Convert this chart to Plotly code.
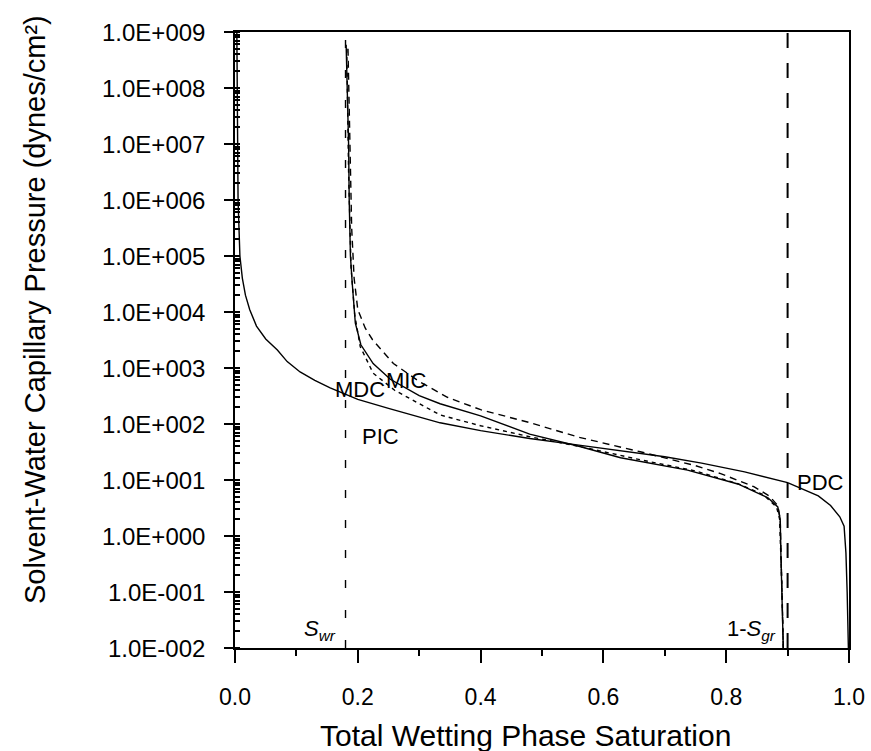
import math
import plotly.graph_objects as go

# ---- data ----
PDC_X = [0.003, 0.004, 0.005, 0.008, 0.012, 0.017, 0.024, 0.035, 0.05, 0.069, 0.085, 0.106,
         0.13, 0.155, 0.2, 0.25, 0.3, 0.334, 0.4, 0.48, 0.56, 0.628, 0.7, 0.76, 0.83, 0.9,
         0.95, 0.97, 0.985, 0.992, 0.995, 0.997, 0.999]
PDC_P = [1.0e9, 3.2e7, 1.0e6, 1.0e5, 4.0e4, 2.0e4, 1.1e4, 5.6e3, 3.3e3, 2.1e3, 1.3e3, 850,
         600, 440, 275, 190, 135, 105, 76, 55, 42, 33, 26, 20, 14, 9.0,
         5.2, 3.5, 2.2, 1.5, 0.5, 0.1, 0.01]

MDC_X = [0.181, 0.183, 0.185, 0.186, 0.188, 0.191, 0.196, 0.205, 0.225, 0.253, 0.3, 0.334,
         0.4, 0.48, 0.56, 0.628, 0.737, 0.819, 0.868, 0.884, 0.888, 0.889, 0.891, 0.893]
MDC_P = [5.9e8, 1.0e8, 1.0e7, 1.0e6, 1.0e5, 3.2e4, 6.3e3, 2.6e3, 1.2e3, 630, 320, 230,
         140, 66, 40, 25, 15, 8.5, 4.8, 3.3, 2.0, 0.5, 0.1, 0.01]

MIC_X = [0.184, 0.187, 0.19, 0.194, 0.2, 0.212, 0.224, 0.258, 0.3, 0.346, 0.4, 0.481,
         0.56, 0.66, 0.75, 0.791, 0.845, 0.87, 0.884, 0.888, 0.889, 0.891, 0.893]
MIC_P = [5.0e8, 1.0e7, 3.2e5, 4.0e4, 1.1e4, 5.2e3, 3.2e3, 1.2e3, 575, 300, 180, 105,
         58, 32, 18, 13, 7.6, 5.2, 3.5, 2.0, 0.5, 0.1, 0.01]

PIC_X = [0.182, 0.185, 0.189, 0.195, 0.204, 0.225, 0.26, 0.334, 0.4, 0.481, 0.56, 0.66,
         0.75, 0.82, 0.86, 0.882, 0.887, 0.889, 0.891, 0.893]
PIC_P = [5.0e8, 3.2e6, 6.3e4, 8.9e3, 2.4e3, 810, 400, 145, 93, 59, 40, 23,
         14.5, 8.5, 5.5, 3.3, 2.0, 0.5, 0.1, 0.01]

SWR = 0.18        # residual wetting saturation
ONE_MINUS_SGR = 0.9
P_MIN, P_MAX = 0.01, 1.0e9

Y_TICK_VALS = [1e-2, 1e-1, 1e0, 1e1, 1e2, 1e3, 1e4, 1e5, 1e6, 1e7, 1e8, 1e9]
Y_TICK_TEXT = ["1.0E-002", "1.0E-001", "1.0E+000", "1.0E+001", "1.0E+002", "1.0E+003",
               "1.0E+004", "1.0E+005", "1.0E+006", "1.0E+007", "1.0E+008", "1.0E+009"]
X_TICK_VALS = [0.0, 0.2, 0.4, 0.6, 0.8, 1.0]
X_TICK_TEXT = ["0.0", "0.2", "0.4", "0.6", "0.8", "1.0"]
X_MINOR_VALS = [0.1, 0.3, 0.5, 0.7, 0.9]

# curve labels: (text, x, pressure)
LABELS = [("MDC", 0.204, 410), ("MIC", 0.278, 590), ("PIC", 0.237, 59), ("PDC", 0.953, 9.0)]
SAT_LABELS = [("<i>S</i><sub><i>wr</i></sub>", 0.168, 0.021),
              ("1-<i>S</i><sub><i>gr</i></sub>", 0.884, 0.021)]

FONT = "Liberation Sans, Arial, sans-serif"

fig = go.Figure()
fig.add_trace(go.Scatter(x=[SWR, SWR], y=[P_MIN, P_MAX], mode="lines",
                         line=dict(color="black", width=1.4, dash="8px,22px")))
fig.add_trace(go.Scatter(x=[ONE_MINUS_SGR, ONE_MINUS_SGR], y=[P_MIN, P_MAX], mode="lines",
                         line=dict(color="black", width=2, dash="15px,15px")))
fig.add_trace(go.Scatter(x=PDC_X, y=PDC_P, mode="lines", line=dict(color="black", width=1.4)))
fig.add_trace(go.Scatter(x=MDC_X, y=MDC_P, mode="lines", line=dict(color="black", width=1.4)))
fig.add_trace(go.Scatter(x=MIC_X, y=MIC_P, mode="lines",
                         line=dict(color="black", width=1.4, dash="7px,5px")))
fig.add_trace(go.Scatter(x=PIC_X, y=PIC_P, mode="lines",
                         line=dict(color="black", width=1.4, dash="4px,4px")))

for txt, lx, lp in LABELS:
    fig.add_annotation(x=lx, y=math.log10(lp), yref="y", xref="x", text=txt, showarrow=False,
                       font=dict(family=FONT, size=22, color="black"),
                       xanchor="center", yanchor="middle")

for txt, lx, lp in SAT_LABELS:
    fig.add_annotation(x=lx, y=math.log10(lp), xref="x", yref="y", text=txt,
                       showarrow=False, xanchor="right", yanchor="middle",
                       font=dict(family=FONT, size=22, color="black"))

# y tick labels placed as text next to the axis
for val, txt in zip(Y_TICK_VALS, Y_TICK_TEXT):
    fig.add_annotation(x=0, y=math.log10(val), xref="paper", yref="y", text=txt,
                       showarrow=False, xanchor="right", yanchor="middle", xshift=-28,
                       font=dict(family=FONT, size=24, color="black"))

# axis titles
fig.add_annotation(x=0, y=0.5, xref="paper", yref="paper", xshift=-200, yshift=30,
                   text="Solvent-Water Capillary Pressure (dynes/cm²)", textangle=-90,
                   showarrow=False, xanchor="center", yanchor="middle",
                   font=dict(family=FONT, size=29, color="black"))
fig.add_annotation(x=0.5, y=0, xref="paper", yref="paper", yshift=-87, xshift=-17,
                   text="Total Wetting Phase Saturation",
                   showarrow=False, xanchor="center", yanchor="middle",
                   font=dict(family=FONT, size=30, color="black"))

fig.update_layout(
    width=871, height=751,
    margin=dict(l=235, r=22, t=32, b=103, autoexpand=False),
    paper_bgcolor="white", plot_bgcolor="white",
    showlegend=False,
    font=dict(family=FONT, color="black"),
)
fig.update_xaxes(range=[0, 1.0], tickmode="array", tickvals=X_TICK_VALS, ticktext=X_TICK_TEXT,
                 automargin=False,
                 ticks="outside", ticklen=13, tickwidth=1.5, tickcolor="black",
                 showline=True, linecolor="black", linewidth=1.5, mirror=True,
                 showgrid=False, zeroline=False, ticklabelstandoff=15,
                 tickfont=dict(family=FONT, size=23, color="black"),
                 minor=dict(tickmode="array", tickvals=X_MINOR_VALS,
                            ticks="outside", ticklen=6, tickcolor="black", showgrid=False))
fig.update_yaxes(type="log", range=[-2, 9], tickmode="array", tickvals=Y_TICK_VALS,
                 showticklabels=False, automargin=False,
                 ticks="outside", ticklen=9, tickwidth=1.5, tickcolor="black",
                 showline=True, linecolor="black", linewidth=1.5, mirror=True,
                 showgrid=False, zeroline=False,
                 minor=dict(dtick="D1", ticks="inside", ticklen=5, tickcolor="black",
                            showgrid=False))

fig.write_html("out.html", config={"displayModeBar": False},
               post_script="document.body.style.margin='0';")
